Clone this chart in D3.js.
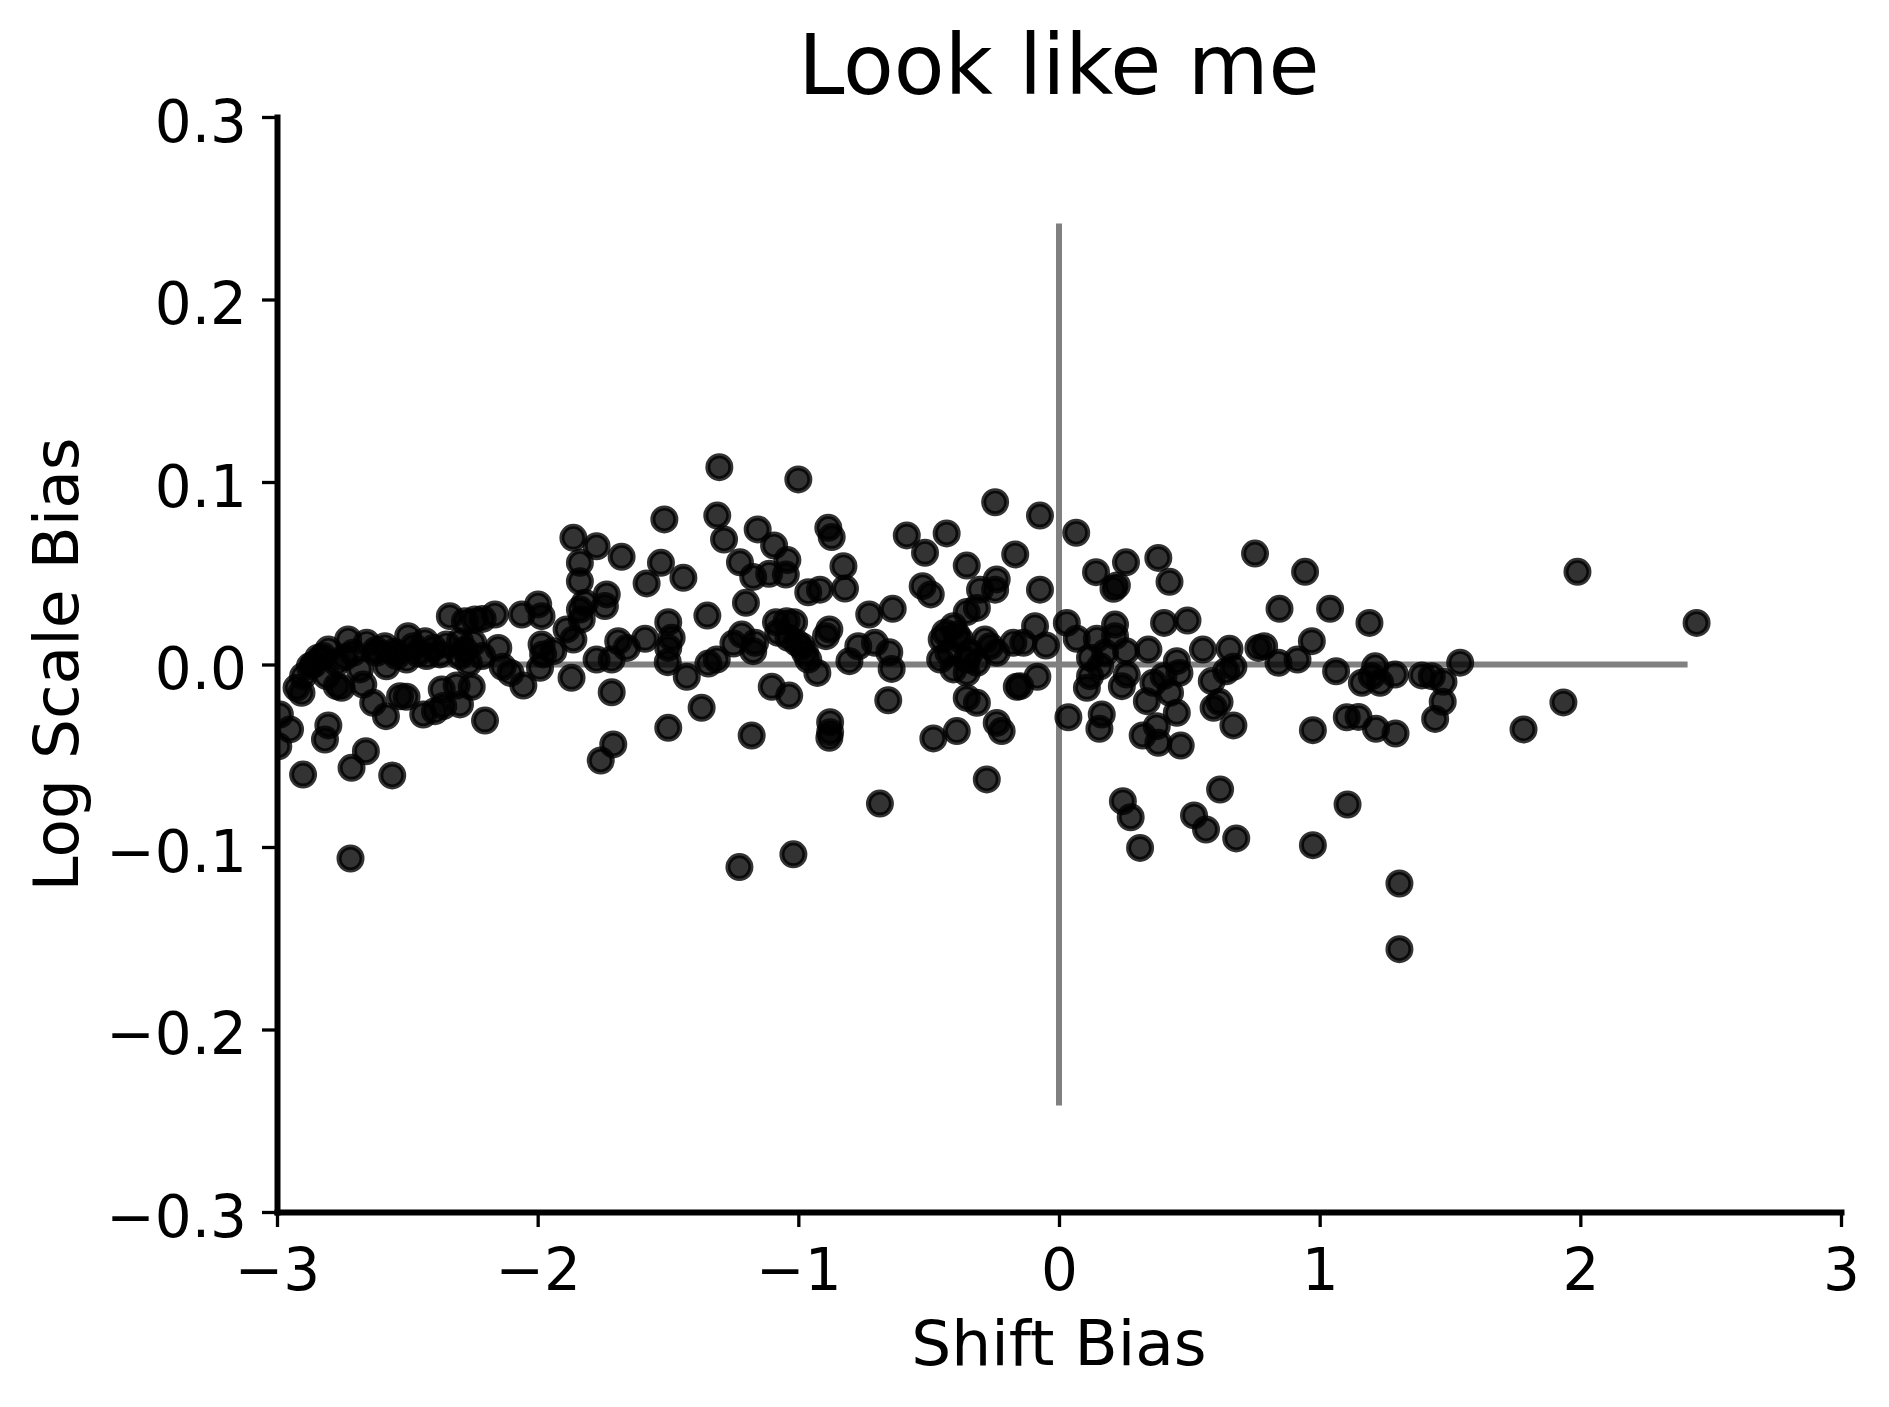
<!DOCTYPE html>
<html>
<head>
<meta charset="utf-8">
<script src="https://cdn.jsdelivr.net/npm/d3@7"></script>
<style>
    body { margin: 0; background: #fff; }
</style>
</head>
<body>
<div id="viz"></div>
<script>
// values
const shiftBias = [
    1.989, 2.446, 1.191, 1.040, 1.063, 1.213, 1.289, 1.162, 1.232, 1.200,
    1.392, 1.430, 1.475, 1.539, 1.472, 1.443, 1.104, 1.149, 1.216, 1.291,
    1.782, 1.935, 1.107, 1.306, 1.306,

    -0.245, -0.073, 0.066, -0.168, -0.239, -0.245, -0.073, 0.142, 0.257, 0.381,
    0.424, 0.222, 0.209, 0.752, 0.944, 0.846, -0.092, 0.030, 0.215, 0.403,
    0.493, -0.264, -0.239, -0.175, -0.137, -0.050, 0.068, 0.145, 0.215, 0.257,
    0.343, 0.119, 0.158, 0.177, 0.452, 0.462, 0.552, 0.654, 0.669, 0.641,
    0.765, 0.787, 0.842, 0.915, 0.970, -0.083, -0.149, -0.162, 0.119, 0.107,
    0.260, 0.241, 0.362, 0.337, 0.426, 0.401, 0.452, 0.586, 0.616, 0.593,
    0.669, 0.036, 0.164, 0.155, 0.321, 0.375, 0.381, 0.467, 0.974, -0.239,
    -0.220, 0.245, 0.275, 0.311, 0.518, 0.564, 0.618, 0.680, 0.974,

    -1.303, -1.000, -1.514, -1.311, -1.285, -1.156, -1.093, -1.042, -0.885, -0.872,
    -0.827, -0.584, -0.514, -0.431, -0.354, -1.678, -1.527, -1.582, -1.441, -1.224,
    -1.173, -1.112, -1.048, -1.201, -0.962, -0.917, -0.821, -0.523, -0.492, -0.303,
    -0.354, -0.315, -0.392, -1.349, -1.499, -1.486, -1.658, -1.588, -1.499, -1.501,
    -1.428, -1.345, -1.313, -1.249, -1.217, -1.166, -1.173, -1.086, -1.045, -1.016,
    -1.038, -0.987, -0.962, -0.927, -0.881, -0.894, -0.804, -0.770, -0.728, -0.638,
    -0.706, -0.651, -0.642, -0.655, -0.450, -0.437, -0.456, -0.424, -0.405, -0.354,
    -0.315, -0.284, -0.354, -0.315, -0.392, -0.482, -0.277, -0.687, -1.371, -1.499,
    -1.102, -1.035, -1.179, -0.878, -0.878, -0.881, -1.226, -1.019, -1.077, -1.006,
    -0.974, -0.405, -0.380, -0.341, -0.354,

    -2.718, -2.900, -2.714, -2.659, -2.558, -2.803, -2.816, -2.989, -2.950, -2.995,
    -2.202, -2.631, -2.582, -2.528, -2.503, -2.439, -2.394, -2.362, -2.298, -2.368,
    -2.311, -2.253, -2.669, -2.752, -2.906, -2.925, -2.900, -2.874, -2.842, -2.803,
    -2.810, -2.771, -2.727, -2.708, -2.682, -2.656, -2.618, -2.586, -2.580, -2.541,
    -2.497, -2.477, -2.432, -2.426, -2.375, -2.503, -2.337, -2.279, -2.241, -2.211,
    -2.164, -2.298, -2.298, -2.247, -2.151, -2.134, -2.104, -2.055, -2.061, -1.998,
    -1.985, -1.985, -1.979, -1.991, -1.940, -1.870, -1.889, -1.863, -1.831, -1.838,
    -1.819, -1.838, -1.838, -1.735, -1.742, -1.774, -1.716, -1.691, -1.716, -1.710,
    -1.758, -1.863, -1.774, -2.823, -2.264, -2.213, -2.771,

    -2.620, -2.550, -2.460, -2.400, -2.350, -2.280, -2.740, -2.860
];

const logScaleBias = [
    0.0508, 0.0228, 0.0228, 0.0305, -0.0037, -0.0010, -0.0055, -0.0100, -0.0100, -0.0064,
    -0.0060, -0.0064, -0.0095, 0.0010, -0.0204, -0.0298, -0.0289, -0.0287, -0.0352, -0.0378,
    -0.0356, -0.0208, -0.0767, -0.1200, -0.1560,

    0.0889, 0.0816, 0.0722, 0.0603, 0.0466, 0.0410, 0.0410, 0.0506, 0.0560, 0.0584,
    0.0453, 0.0433, 0.0415, 0.0608, 0.0508, 0.0305, 0.0210, 0.0228, 0.0219, 0.0228,
    0.0241, 0.0100, 0.0064, 0.0119, 0.0119, 0.0104, 0.0141, 0.0141, 0.0155, 0.0073,
    0.0082, 0.0037, -0.0010, 0.0064, 0.0018, -0.0046, 0.0082, 0.0086, -0.0013, -0.0037,
    0.0091, 0.0100, 0.0009, 0.0027, 0.0128, -0.0067, -0.0119, -0.0122, -0.0064, -0.0128,
    -0.0055, -0.0119, -0.0100, -0.0201, -0.0155, -0.0064, -0.0265, -0.0091, -0.0206, -0.0237,
    -0.0334, -0.0289, -0.0274, -0.0352, -0.0389, -0.0338, -0.0429, -0.0444, -0.0360, -0.0320,
    -0.0365, -0.0749, -0.0837, -0.1005, -0.0827, -0.0904, -0.0685, -0.0953, -0.0990,

    0.1081, 0.1014, 0.0795, 0.0816, 0.0685, 0.0740, 0.0652, 0.0572, 0.0749, 0.0698,
    0.0539, 0.0707, 0.0612, 0.0718, 0.0542, 0.0590, 0.0557, 0.0444, 0.0475, 0.0560,
    0.0480, 0.0497, 0.0493, 0.0338, 0.0396, 0.0410, 0.0416, 0.0429, 0.0384, 0.0410,
    0.0287, 0.0310, 0.0164, 0.0268, 0.0232, 0.0146, 0.0091, 0.0141, 0.0091, 0.0013,
    -0.0067, 0.0005, 0.0027, 0.0115, 0.0164, 0.0119, 0.0073, 0.0232, 0.0237, 0.0232,
    0.0146, 0.0100, 0.0027, -0.0046, 0.0192, 0.0155, 0.0018, 0.0100, 0.0274, 0.0305,
    0.0119, 0.0067, -0.0024, -0.0196, 0.0137, 0.0174, 0.0027, 0.0064, -0.0027, 0.0027,
    0.0009, 0.0137, -0.0183, -0.0210, -0.0365, -0.0405, -0.0630, -0.0762, -0.0237, -0.0347,
    -0.0122, -0.0170, -0.0389, -0.0316, -0.0371, -0.0402, -0.1110, -0.1040, 0.0174, 0.0119,
    0.0064, 0.0210, 0.0137, 0.0064, -0.0046,

    -0.1063, -0.0603, -0.0566, -0.0475, -0.0608, -0.0334, -0.0411, -0.0274, -0.0356, -0.0448,
    -0.0307, -0.0210, -0.0283, -0.0174, -0.0177, -0.0274, -0.0256, -0.0228, -0.0219, -0.0137,
    -0.0115, -0.0122, -0.0110, -0.0128, -0.0155, -0.0128, -0.0064, -0.0010, 0.0037, 0.0082,
    -0.0064, 0.0009, 0.0137, 0.0064, -0.0027, 0.0119, 0.0064, 0.0100, -0.0010, 0.0046,
    0.0155, 0.0100, 0.0128, 0.0046, 0.0055, 0.0027, 0.0265, 0.0237, 0.0247, 0.0250,
    0.0274, 0.0128, 0.0046, 0.0119, 0.0091, -0.0013, -0.0046, -0.0115, 0.0274, 0.0329,
    0.0265, 0.0110, 0.0055, -0.0018, 0.0073, -0.0073, 0.0192, 0.0137, 0.0247, 0.0301,
    0.0338, 0.0456, 0.0557, 0.0384, 0.0320, 0.0027, 0.0027, 0.0128, -0.0152, -0.0438,
    -0.0526, 0.0694, 0.0648, 0.0046, 0.0009, 0.0046, -0.0119,

    0.0080, 0.0070, 0.0060, 0.0090, 0.0110, 0.0080, 0.0040, 0.0000
];

const xTicks = [-3, -2, -1, 0, 1, 2, 3];
const yTicks = [-0.3, -0.2, -0.1, 0.0, 0.1, 0.2, 0.3];
const xDomain = [-3, 3];
const yDomain = [-0.3, 0.3];
const hLine = [-2.4, 2.4];    // horizontal guide at 0
const vLine = [-0.24, 0.24];  // vertical guide at 0

const chartTitle = "Look like me";
const xLabel = "Shift Bias";
const yLabel = "Log Scale Bias";

document.addEventListener("DOMContentLoaded", () => {
    const width = 1889;
    const height = 1407;
    const left = 277, right = 1841, top = 117, bottom = 1212;
    const font = "'DejaVu Sans', sans-serif";

    const svg = d3.select('#viz').append('svg')
        .attr('width', width)
        .attr('height', height)
        .style('display', 'block')
        .style('background', '#fff');

    const x = d3.scaleLinear().domain(xDomain).range([left, right]);
    const y = d3.scaleLinear().domain(yDomain).range([bottom, top]);

    svg.append('defs').append('clipPath')
        .attr('id', 'plot-clip')
        .append('rect')
        .attr('x', left)
        .attr('y', top)
        .attr('width', right - left)
        .attr('height', bottom - top);

    // grey guide lines through the origin
    svg.append('line')
        .attr('x1', x(hLine[0])).attr('x2', x(hLine[1]))
        .attr('y1', y(0)).attr('y2', y(0))
        .attr('stroke', '#808080')
        .attr('stroke-width', 6)
        .attr('stroke-linecap', 'square');

    svg.append('line')
        .attr('x1', x(0)).attr('x2', x(0))
        .attr('y1', y(vLine[1])).attr('y2', y(vLine[0]))
        .attr('stroke', '#808080')
        .attr('stroke-width', 6)
        .attr('stroke-linecap', 'square');

    svg.append('g')
        .attr('clip-path', 'url(#plot-clip)')
        .selectAll('circle')
        .data(d3.range(shiftBias.length))
        .enter()
        .append('circle')
        .attr('cx', i => x(shiftBias[i]))
        .attr('cy', i => y(logScaleBias[i]))
        .attr('r', 11.5)
        .attr('fill', 'black')
        .attr('fill-opacity', 0.8)
        .attr('stroke', 'black')
        .attr('stroke-opacity', 0.8)
        .attr('stroke-width', 5);

    const xAxis = svg.append('g')
        .attr('transform', `translate(0,${bottom})`)
        .call(d3.axisBottom(x)
            .tickValues(xTicks)
            .tickFormat(d3.format('d'))
            .tickSize(15)
            .tickSizeOuter(0)
            .tickPadding(22));

    const yAxis = svg.append('g')
        .attr('transform', `translate(${left},0)`)
        .call(d3.axisLeft(y)
            .tickValues(yTicks)
            .tickFormat(d3.format('.1f'))
            .tickSize(15)
            .tickSizeOuter(0)
            .tickPadding(15));

    [xAxis, yAxis].forEach(g => {
        g.attr('font-family', font).attr('font-size', 58);
        g.select('.domain')
            .attr('stroke', 'black')
            .attr('stroke-width', 6)
            .attr('stroke-linecap', 'square');
        g.selectAll('.tick line')
            .attr('stroke', 'black')
            .attr('stroke-width', 3.3);
        g.selectAll('.tick text').attr('fill', 'black');
    });
    yAxis.selectAll('.tick text').attr('dy', '0.42em');

    svg.append('text')
        .attr('x', (left + right) / 2)
        .attr('y', 94)
        .attr('text-anchor', 'middle')
        .attr('font-family', font)
        .attr('font-size', 83)
        .text(chartTitle);

    svg.append('text')
        .attr('x', (left + right) / 2)
        .attr('y', 1365)
        .attr('text-anchor', 'middle')
        .attr('font-family', font)
        .attr('font-size', 63)
        .text(xLabel);

    svg.append('text')
        .attr('transform', `translate(78,${(top + bottom) / 2}) rotate(-90)`)
        .attr('text-anchor', 'middle')
        .attr('font-family', font)
        .attr('font-size', 63)
        .text(yLabel);
});
</script>
</body>
</html>
